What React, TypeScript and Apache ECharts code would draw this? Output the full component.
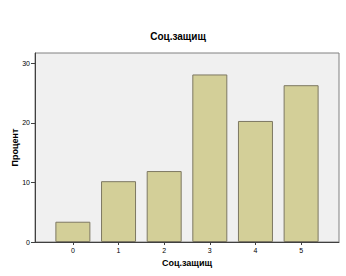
import React, { useEffect, useRef } from "react";
import * as echarts from "echarts";

const categories = [0, 1, 2, 3, 4, 5];
const percents = [3.4, 10.2, 11.9, 28.1, 20.3, 26.3];
const yTicks = [0, 10, 20, 30];

const FONT = "'Liberation Sans', Arial, sans-serif";

export default function App() {
  const ref = useRef<HTMLDivElement>(null);

  useEffect(() => {
    if (!ref.current) return;
    const chart = echarts.init(ref.current, null, { renderer: "svg" });
    chart.setOption({
      animation: false,
      backgroundColor: "#ffffff",
      title: {
        text: "Соц.защищ",
        left: 173,
        textAlign: "center",
        top: 26,
        textStyle: { fontFamily: FONT, fontSize: 10, fontWeight: "bold", color: "#000" },
      },
      grid: {
        left: 35,
        right: 7,
        top: 53,
        bottom: 34,
        containLabel: false,
        outerBoundsMode: "none",
        show: true,
        backgroundColor: "#f0f0f0",
        borderColor: "#808080",
        borderWidth: 1,
      },
      xAxis: {
        type: "value",
        min: -0.83,
        max: 5.83,
        name: "Соц.защищ",
        nameLocation: "middle",
        nameGap: 16,
        nameMoveOverlap: false,
        nameTextStyle: { fontFamily: FONT, fontSize: 9, fontWeight: "bold", color: "#000" },
        axisLine: { show: true, onZero: false, lineStyle: { color: "#404040", width: 1 } },
        axisTick: { show: true, length: 3, customValues: categories, lineStyle: { color: "#404040" } },
        axisLabel: {
          customValues: categories,
          fontFamily: FONT,
          fontSize: 7,
          color: "#000",
          margin: 5,
        },
        splitLine: { show: false },
      },
      yAxis: {
        type: "value",
        min: 0,
        max: 31.7,
        name: "Процент",
        nameLocation: "middle",
        nameGap: 16,
        nameMoveOverlap: false,
        nameTextStyle: { fontFamily: FONT, fontSize: 9, fontWeight: "bold", color: "#000" },
        axisLine: { show: true, onZero: false, lineStyle: { color: "#404040", width: 1 } },
        axisTick: { show: true, length: 4, customValues: yTicks, lineStyle: { color: "#404040" } },
        axisLabel: {
          customValues: yTicks,
          fontFamily: FONT,
          fontSize: 7,
          color: "#000",
          margin: 5,
        },
        splitLine: { show: false },
      },
      series: [
        {
          type: "bar",
          data: categories.map((c, i) => [c, percents[i]]),
          barWidth: 35,
          itemStyle: { color: "#d3cf98", borderColor: "#7d7862", borderWidth: 1 },
        },
      ],
    });
    return () => chart.dispose();
  }, []);

  return <div ref={ref} style={{ width: 346, height: 276, position: "absolute", left: 0, top: 0 }} />;
}
